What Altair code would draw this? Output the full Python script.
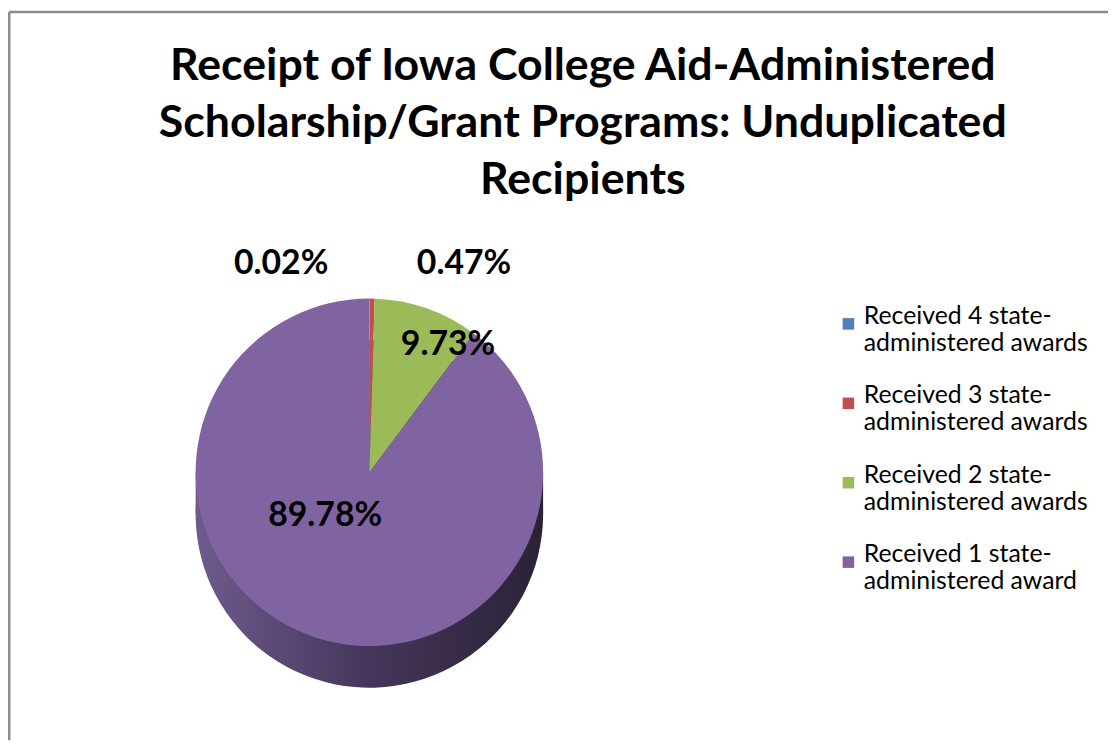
import altair as alt
import pandas as pd

# ---- data ----
CATEGORIES = [
    "Received 4 state-|administered awards",
    "Received 3 state-|administered awards",
    "Received 2 state-|administered awards",
    "Received 1 state-|administered award",
]
PERCENTS = [0.02, 0.47, 9.73, 89.78]
LABELS = ["0.02%", "0.47%", "9.73%", "89.78%"]
ORDER = [1, 2, 3, 4]
COLORS = ["#4F81BD", "#C0504D", "#9BBB59", "#8064A2"]
TITLE_LINES = [
    "Receipt of Iowa College Aid-Administered",
    "Scholarship/Grant Programs: Unduplicated",
    "Recipients",
]

df = pd.DataFrame({"category": CATEGORIES, "value": PERCENTS,
                   "label": LABELS, "order": ORDER})
one_df = pd.DataFrame({"k": [0]})

W, H = 1108, 735
FONT = "Lato"
R = 175
CX = 364          # pie centre, plot coordinates
CY = 465
DEPTH = 42

side_grad = alt.Gradient(
    gradient="linear",
    stops=[alt.GradientStop(color="#6e5b8e", offset=0),
           alt.GradientStop(color="#44365a", offset=0.5),
           alt.GradientStop(color="#2b2236", offset=1)],
    x1=0, x2=1, y1=0, y2=0,
)

color = alt.Color(
    "category:N",
    scale=alt.Scale(domain=CATEGORIES, range=COLORS),
    sort=CATEGORIES,
    legend=alt.Legend(
        title=None, orient="none", legendX=834, legendY=303,
        symbolType="square", symbolSize=135, symbolStrokeWidth=0,
        labelFont=FONT, labelFontSize=25, labelColor="#000000",
        labelExpr="split(datum.label, '|')", labelLimit=400,
        rowPadding=27, labelOffset=3, labelBaseline="alphabetic",
    ),
)

base = alt.Chart(df).encode(
    theta=alt.Theta("value:Q", stack=True),
    order=alt.Order("order:Q"),
)

side_arc = base.mark_arc(outerRadius=R, color=side_grad).encode(
    x=alt.value(CX), y=alt.value(CY + DEPTH))
side_band = alt.Chart(one_df).mark_rect(color=side_grad).encode(
    x=alt.value(CX - R), x2=alt.value(CX + R),
    y=alt.value(CY), y2=alt.value(CY + DEPTH))

top = base.mark_arc(outerRadius=R, stroke=None).encode(
    color=color, x=alt.value(CX), y=alt.value(CY)
)

# label positions: mid-angle of each slice from the cumulative sum
lab_base = alt.Chart(df).transform_window(
    cum="sum(value)", sort=[alt.SortField("order")]
).transform_calculate(mid="datum.cum - datum.value / 2")


def label_layer(cat, radius, dx=0, dy=0):
    return lab_base.transform_filter(alt.datum.category == cat).mark_text(
        radius=radius, dx=dx, dy=dy, font=FONT, fontSize=34,
        fontWeight="bold", color="#000000",
    ).encode(
        theta=alt.Theta("mid:Q", stack=None),
        text="label:N", x=alt.value(CX), y=alt.value(CY),
    )


labels = [
    label_layer(CATEGORIES[0], R + 35, dx=-89),
    label_layer(CATEGORIES[1], R + 35, dx=92),
    label_layer(CATEGORIES[2], 140, dx=33, dy=4),
    label_layer(CATEGORIES[3], 46, dx=-30),
]

title = alt.Chart(one_df).mark_text(
    text=TITLE_LINES, font=FONT, fontSize=45, fontWeight="bold",
    color="#000000", lineHeight=57.5, align="center", baseline="alphabetic",
).encode(x=alt.value(579), y=alt.value(70))

# chart frame (top and left border of the Excel chart area)
frame_top = alt.Chart(one_df).mark_rule(color="#8c8c8c", strokeWidth=2.5).encode(
    x=alt.value(1.25), x2=alt.value(W), y=alt.value(1.25))
frame_left = alt.Chart(one_df).mark_rule(color="#8c8c8c", strokeWidth=2.5).encode(
    x=alt.value(1.25), y=alt.value(1.25), y2=alt.value(H))

chart = alt.layer(
    side_band, side_arc, top, *labels, title, frame_top, frame_left
).properties(
    width=W, height=H,
    autosize=alt.AutoSizeParams(type="fit", contains="padding"),
    padding=0,
).configure_view(stroke=None)

chart.save("out.html", embed_options={"renderer": "svg", "actions": False})
